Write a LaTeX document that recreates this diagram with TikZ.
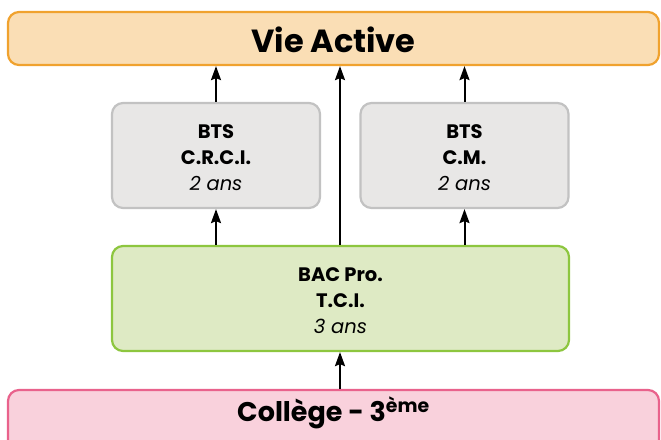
\documentclass[tikz,border=0pt]{standalone}
\usepackage{fontspec}
\setmainfont{Poppins}
\usetikzlibrary{arrows.meta}
\definecolor{vieF}{HTML}{FADEB5}
\definecolor{vieD}{HTML}{F0A22E}
\definecolor{btsF}{HTML}{E8E7E6}
\definecolor{btsD}{HTML}{C2C2C2}
\definecolor{bacF}{HTML}{DEEAC4}
\definecolor{bacD}{HTML}{8DC63F}
\definecolor{colF}{HTML}{F9D1DC}
\definecolor{colD}{HTML}{E9628C}
\tikzset{
  box/.style={rounded corners=11pt, line width=2.2pt, inner sep=0pt, align=center},
  vie/.style={box, draw=vieD, fill=vieF, minimum width=651pt, minimum height=53pt},
  bts/.style={box, draw=btsD, fill=btsF, minimum width=208pt, minimum height=105pt},
  bac/.style={box, draw=bacD, fill=bacF, minimum width=457pt, minimum height=105pt},
  col/.style={box, draw=colD, fill=colF, minimum width=651pt, minimum height=70pt},
  lbl/.style={align=center, font=\fontsize{19.5}{26}\selectfont},
  arr/.style={line width=2pt, -{Stealth[length=14pt, width=10pt, inset=2pt]}},
  big/.style={font=\fontsize{32}{34}\selectfont\bfseries},
}
\begin{document}
\begin{tikzpicture}[x=1pt, y=-1pt]
\useasboundingbox (0,0) rectangle (661,439);
\clip (0,0) rectangle (661,439);
\node[vie] (vie) at (333.5,38.5) {};
\node[big] (vieT) at (333.5,40) {Vie Active};
\node[bts] (crci) at (216,155.5) {};
\node[lbl] (crciT) at (216,158) {\textbf{BTS}\\\textbf{C.R.C.I.}\\\textit{2 ans}};
\node[bts] (cm) at (464.5,155.5) {};
\node[lbl] (cmT) at (464.5,158) {\textbf{BTS}\\\textbf{C.M.}\\\textit{2 ans}};
\node[bac] (bac) at (340.5,298.5) {};
\node[lbl] (bacT) at (340.5,301) {\textbf{BAC Pro.}\\\textbf{T.C.I.}\\\textit{3 ans}};
\node[col] (col) at (333.5,425) {};
\node[font=\fontsize{27}{30}\selectfont\bfseries] (colT) at (333.5,413) {Collège - 3\textsuperscript{ème}};
\coordinate (mid) at (340,0);
\draw[arr] (crci.north) -- (crci.north |- vie.south);
\draw[arr] (bac.north -| crci.south) -- (crci.south);
\draw[arr] (cm.north) -- (cm.north |- vie.south);
\draw[arr] (bac.north -| cm.south) -- (cm.south);
\draw[arr] (bac.north -| mid) -- (vie.south -| mid);
\draw[arr] (col.north -| mid) -- (bac.south -| mid);
\end{tikzpicture}
\end{document}
